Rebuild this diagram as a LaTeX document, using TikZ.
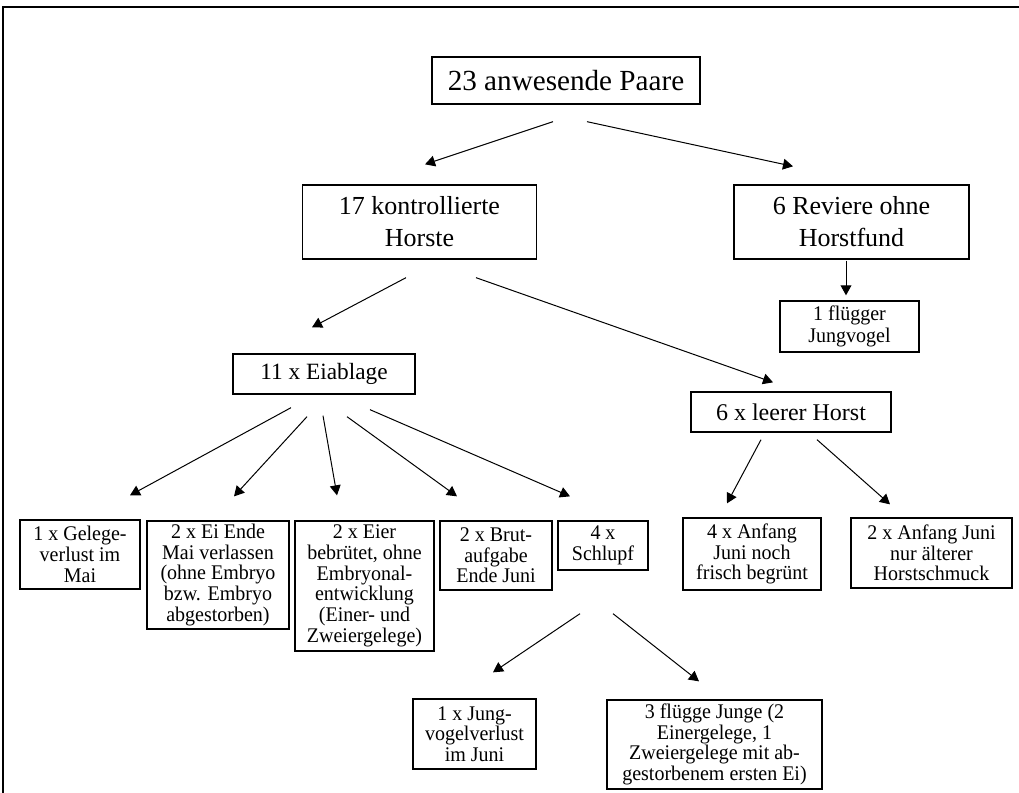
\documentclass[tikz,border=0pt]{standalone}
\usepackage{fontspec}
\setmainfont{Liberation Serif}
\newfontfamily\narrowserif{Liberation Serif}[FakeStretch=0.96]
\usetikzlibrary{arrows.meta, calc}
\tikzset{
  box/.style={draw, line width=0.8pt, inner sep=0pt, align=center, font=\narrowserif\fontsize{12.5}{12.4}\selectfont},
  dim/.style 2 args={minimum width=#1*0.6pt, minimum height=#2*0.6pt},
  link/.style={-{Triangle[length=6pt,width=6.5pt]}, line width=0.6pt},
}
\begin{document}
\begin{tikzpicture}[x=0.6pt, y=-0.6pt]
\useasboundingbox (0,0) rectangle (1019,792);
\clip (0,0) rectangle (1019,792);
\draw[line width=1.2pt] (3,7) rectangle (1040,820);

% upper levels
\node[box, dim={268}{47}, font=\fontsize{17.5}{21}\selectfont] (paare) at (566,80.5) {23 anwesende Paare};
\node[box, dim={234}{74}, font=\fontsize{15.6}{19.2}\selectfont] (kontr) at (419.5,222) {17 kontrollierte\\Horste};
\node[box, dim={235}{74}, font=\fontsize{15.6}{19.2}\selectfont] (reviere) at (851.5,222) {6 Reviere ohne\\Horstfund};
\node[box, dim={139}{51}, font=\narrowserif\fontsize{12.5}{13.5}\selectfont] (fluegger) at (849.5,326.5) {1 flügger\\Jungvogel};
\node[box, dim={182}{40}, font=\fontsize{14}{16}\selectfont] (eiablage) at (324,374) {11 x Eiablage};
\node[box, dim={200}{40}, font=\fontsize{14.4}{16}\selectfont] (leerer) at (791,412) {6 x leerer Horst};

% outcomes
\node[box, dim={120}{69}] (gelege) at (80,554.5) {1 x Gelege-\\verlust im\\Mai};
\node[box, dim={142}{108}] (eiende) at (218,575) {2 x Ei Ende\\Mai verlassen\\(ohne Embryo\\bzw. Embryo\\abgestorben)};
\node[box, dim={139}{130}] (eier) at (364.5,586) {2 x Eier\\bebrütet, ohne\\Embryonal-\\entwicklung\\(Einer- und\\Zweiergelege)};
\node[box, dim={112}{69}] (brut) at (496,555.5) {2 x Brut-\\aufgabe\\Ende Juni};
\node[box, dim={90}{49}] (schlupf) at (603,545.5) {4 x\\Schlupf};
\node[box, dim={138}{72}] (noch) at (752,554) {4 x Anfang\\Juni noch\\frisch begrünt};
\node[box, dim={161}{70}] (aelter) at (931.5,553) {2 x Anfang Juni\\nur älterer\\Horstschmuck};
\node[box, dim={123}{70}] (verlust) at (474.5,734) {1 x Jung-\\vogelverlust\\im Juni};
\node[box, dim={215}{89}] (junge) at (714.5,744.5) {3 flügge Junge (2\\Einergelege, 1\\Zweiergelege mit ab-\\gestorbenem ersten Ei)};

% arrows
\draw[link] ($(paare.south)+(-13,17)$) -- ($(kontr.north)+(5.5,-20)$);
\draw[link] ($(paare.south)+(21,17)$) -- ($(reviere.north)+(-58.5,-18)$);
\draw[link] ($(kontr.south)+(-13.5,18)$) -- ($(eiablage.north)+(-12,-26)$);
\draw[link] ($(kontr.south)+(56.5,18)$) -- ($(leerer.north)+(-18,-9)$);
\draw[link] ($(reviere.south)+(-5.5,1)$) -- ($(fluegger.north)+(-3.5,-5)$);
\draw[link] ($(eiablage.south)+(-33,13)$) -- ($(gelege.north)+(50,-24)$);
\draw[link] ($(eiablage.south)+(-17,22)$) -- ($(eiende.north)+(16,-24)$);
\draw[link] ($(eiablage.south)+(-1,21)$) -- ($(eier.north)+(-27.5,-25)$);
\draw[link] ($(eiablage.south)+(23,22)$) -- ($(brut.north)+(-39,-24)$);
\draw[link] ($(eiablage.south)+(46,15)$) -- ($(schlupf.north)+(-33,-24)$);
\draw[link] ($(leerer.south)+(-30,7)$) -- ($(noch.north)+(-25,-14)$);
\draw[link] ($(leerer.south)+(26,7)$) -- ($(aelter.north)+(-41.5,-13)$);
\draw[link] ($(schlupf.south)+(-23,43)$) -- ($(verlust.north)+(18.5,-26)$);
\draw[link] ($(schlupf.south)+(10,43)$) -- ($(junge.north)+(-15.5,-18)$);
\end{tikzpicture}
\end{document}
